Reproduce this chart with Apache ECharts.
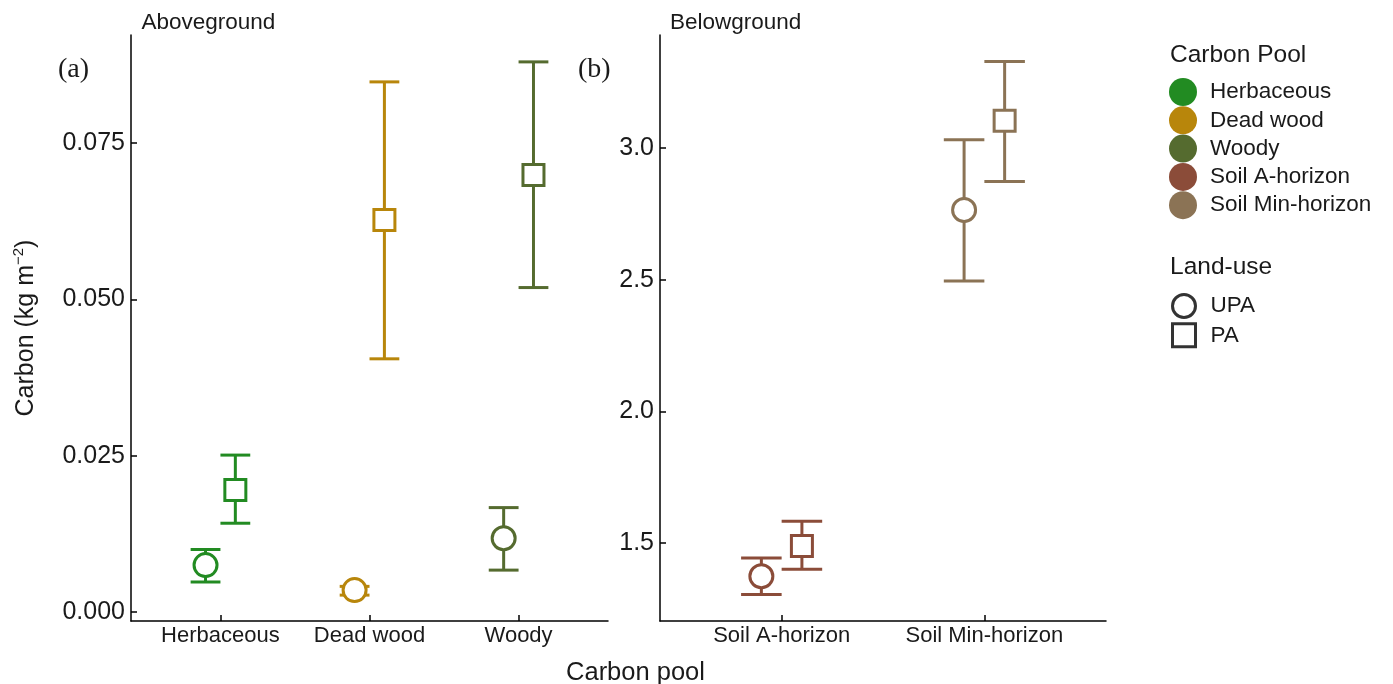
<!DOCTYPE html>
<html>
<head>
<meta charset="utf-8">
<script src="https://cdn.jsdelivr.net/npm/echarts@6/dist/echarts.min.js"></script>
<style>
html, body { margin: 0; padding: 0; background: #fff; }
#chart { width: 1393px; height: 684px; }
</style>
</head>
<body>
<div id="chart"></div>
<script>
// 数据：碳库名称，两种土地利用的均值与误差范围
const abovePools = ['Herbaceous', 'Dead wood', 'Woody']
const belowPools = ['Soil A-horizon', 'Soil Min-horizon']
const poolNames = abovePools.concat(belowPools)
const landUses = ['UPA', 'PA']

const upaMean = [0.0075, 0.0035, 0.0118, 1.373, 2.765]
const upaLow = [0.0048, 0.0027, 0.0067, 1.304, 2.495]
const upaHigh = [0.0100, 0.0041, 0.0167, 1.442, 3.032]

const paMean = [0.0195, 0.0627, 0.0699, 1.488, 3.104]
const paLow = [0.0142, 0.0405, 0.0519, 1.400, 2.873]
const paHigh = [0.0251, 0.0848, 0.0880, 1.582, 3.329]

const aboveTicks = [0, 0.025, 0.05, 0.075]
const belowTicks = [1.5, 2.0, 2.5, 3.0]

const poolColors = ['#228B22', '#B8860B', '#556B2F', '#8B4C39', '#8B7355']

const font = 'Liberation Sans, Arial, sans-serif'
const ink = '#1a1a1a'
const dodge = 0.1
const capHalf = 0.1

/**
 * 画误差棒 + 标记点
 */
function renderBar(params, api) {
    let lu = api.value(4)
    let x = api.value(0) + (lu == 0 ? -dodge : dodge)
    let mid = api.coord([x, api.value(1)])
    let low = api.coord([x, api.value(2)])
    let high = api.coord([x, api.value(3)])
    let half = api.size([capHalf, 0])[0]
    let color = api.visual('color')
    let lineStyle = { stroke: color, lineWidth: 3, fill: null }

    let marker
    if (lu == 0) {
        marker = {
            type: 'circle',
            shape: { cx: mid[0], cy: mid[1], r: 11.5 },
            style: { fill: '#fff', stroke: color, lineWidth: 3 }
        }
    } else {
        marker = {
            type: 'rect',
            shape: { x: mid[0] - 10.5, y: mid[1] - 10.5, width: 21, height: 21 },
            style: { fill: '#fff', stroke: color, lineWidth: 3 }
        }
    }
    return {
        type: 'group',
        children: [
            { type: 'line', shape: { x1: low[0], y1: low[1], x2: high[0], y2: high[1] }, style: lineStyle },
            { type: 'line', shape: { x1: low[0] - half, y1: low[1], x2: low[0] + half, y2: low[1] }, style: lineStyle },
            { type: 'line', shape: { x1: high[0] - half, y1: high[1], x2: high[0] + half, y2: high[1] }, style: lineStyle },
            marker
        ]
    }
}

function makeXAxis(gridIndex, cats) {
    let vals = cats.map((c, i) => i + 1)
    return {
        type: 'value',
        gridIndex: gridIndex,
        min: 0.4,
        max: cats.length + 0.6,
        splitLine: { show: false },
        axisLine: { show: true, onZero: false, lineStyle: { color: '#000', width: 1.5 } },
        axisTick: { show: true, inside: true, length: 6, customValues: vals, lineStyle: { color: '#000', width: 1.5 } },
        axisLabel: {
            customValues: vals,
            formatter: v => cats[Math.round(v) - 1],
            fontSize: 22, fontFamily: font, color: ink, margin: 4
        }
    }
}

function makeYAxis(gridIndex, min, max, ticks, digits) {
    return {
        type: 'value',
        gridIndex: gridIndex,
        min: min,
        max: max,
        splitLine: { show: false },
        axisLine: { show: true, onZero: false, lineStyle: { color: '#000', width: 1.5 } },
        axisTick: { show: true, inside: true, length: 6, customValues: ticks, lineStyle: { color: '#000', width: 1.5 } },
        axisLabel: {
            customValues: ticks,
            formatter: v => v.toFixed(digits),
            fontSize: 25, fontFamily: font, color: ink, margin: 6
        }
    }
}

let series = poolNames.map((name, i) => {
    let above = i < abovePools.length
    let xPos = above ? i + 1 : i - abovePools.length + 1
    return {
        name: name,
        type: 'custom',
        xAxisIndex: above ? 0 : 1,
        yAxisIndex: above ? 0 : 1,
        itemStyle: { color: poolColors[i] },
        renderItem: renderBar,
        encode: { x: 0, y: 1 },
        data: [
            [xPos, upaMean[i], upaLow[i], upaHigh[i], 0],
            [xPos, paMean[i], paLow[i], paHigh[i], 1]
        ]
    }
})
// 土地利用图例用的空系列
landUses.forEach(lu => {
    series.push({ name: lu, type: 'scatter', xAxisIndex: 0, yAxisIndex: 0, data: [] })
})

let yAxisLeft = makeYAxis(0, -0.00144, 0.0923, aboveTicks, 3)
yAxisLeft.name = 'Carbon (kg m{sup|\u22122})'
yAxisLeft.nameLocation = 'middle'
yAxisLeft.nameRotate = 90
yAxisLeft.nameGap = 90
yAxisLeft.nameTextStyle = {
    fontSize: 25, fontFamily: font, color: ink, lineHeight: 30,
    rich: { sup: { fontSize: 15, fontFamily: font, color: ink, verticalAlign: 'top', lineHeight: 16 } }
}

const labelText = (text, x, y, size, family) => ({
    type: 'text', x: x, y: y,
    style: { text: text, fontSize: size, fontFamily: family || font, fill: ink, verticalAlign: 'middle' }
})

var myChart = echarts.init(document.getElementById('chart'))
myChart.setOption({
    animation: false,
    backgroundColor: '#fff',
    grid: [
        { left: 131, top: 35, width: 477, height: 586 },
        { left: 660, top: 35, width: 446, height: 586 }
    ],
    xAxis: [makeXAxis(0, abovePools), makeXAxis(1, belowPools)],
    yAxis: [yAxisLeft, makeYAxis(1, 1.203, 3.43, belowTicks, 1)],
    legend: [
        {
            orient: 'vertical', left: 1164, top: 73,
            itemWidth: 44, itemHeight: 28, itemGap: 0.3,
            selectedMode: false,
            data: poolNames.map((n, i) => ({ name: n, icon: 'circle', itemStyle: { color: poolColors[i] } })),
            textStyle: { fontSize: 22.5, fontFamily: font, color: ink }
        },
        {
            orient: 'vertical', left: 1166, top: 288,
            itemWidth: 23, itemHeight: 23, itemGap: 3.3,
            selectedMode: false,
            data: [
                { name: 'UPA', icon: 'circle', itemStyle: { color: '#fff', borderColor: '#000', borderWidth: 3 } },
                { name: 'PA', icon: 'rect', itemStyle: { color: '#fff', borderColor: '#000', borderWidth: 3 } }
            ],
            textStyle: { fontSize: 22.5, fontFamily: font, color: ink, padding: [0, 0, 0, 10] }
        }
    ],
    graphic: [
        labelText('Aboveground', 141.5, 22.5, 22.5),
        labelText('Belowground', 670, 22.7, 22.5),
        labelText('(a)', 58, 70, 28, 'Liberation Serif, Times New Roman, serif'),
        labelText('(b)', 578, 70, 28, 'Liberation Serif, Times New Roman, serif'),
        labelText('Carbon Pool', 1170, 55.5, 24.5),
        labelText('Land-use', 1170, 267.5, 24.5),
        {
            type: 'text', x: 635.5, y: 673,
            style: { text: 'Carbon pool', fontSize: 25.5, fontFamily: font, fill: ink, align: 'center', verticalAlign: 'middle' }
        }
    ],
    series: series
})
</script>
</body>
</html>
